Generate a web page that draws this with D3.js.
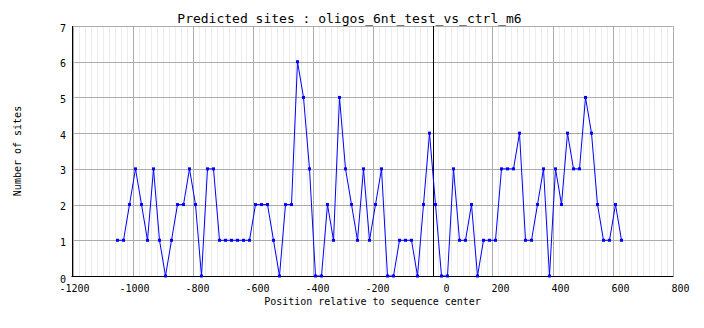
<!DOCTYPE html>
<html><head><meta charset="utf-8">
<script src="https://cdn.jsdelivr.net/npm/d3@7"></script>
<style>
body{margin:0;background:#fff;}
text{font-family:"DejaVu Sans Mono",monospace;fill:#000;}
</style></head>
<body><svg id="c" width="704" height="328"></svg>
<script>
const title = "Predicted sites : oligos_6nt_test_vs_ctrl_m6";
const xLabel = "Position relative to sequence center";
const yLabel = "Number of sites";
const positions = [-1050,-1030,-1010,-990,-970,-950,-930,-910,-890,-870,-850,-830,-810,-790,-770,-750,-730,-710,-690,-670,-650,-630,-610,-590,-570,-550,-530,-510,-490,-470,-450,-430,-410,-390,-370,-350,-330,-310,-290,-270,-250,-230,-210,-190,-170,-150,-130,-110,-90,-70,-50,-30,-10,10,30,50,70,90,110,130,150,170,190,210,230,250,270,290,310,330,350,370,390,410,430,450,470,490,510,530,550,570,590,610,630];
const sites = [1,1,2,3,2,1,3,1,0,1,2,2,3,2,0,3,3,1,1,1,1,1,1,2,2,2,1,0,2,2,6,5,3,0,0,2,1,5,3,2,1,3,1,2,3,0,0,1,1,1,0,2,4,2,0,0,3,1,1,2,0,1,1,1,3,3,3,4,1,1,2,3,0,3,2,4,3,3,5,4,2,1,1,2,1];
const xTicks = [-1200,-1000,-800,-600,-400,-200,0,200,400,600,800];
const yTicks = [0,1,2,3,4,5,6,7];
const xMinor = d3.range(-1200, 801, 20);

const svg = d3.select("#c");
const L = 72.5, R = 672.5, T = 26, B = 276;
const x = d3.scaleLinear().domain([-1200, 800]).range([L, R]);
const y = d3.scaleLinear().domain([0, 7]).range([B, T]);

// minor vertical grid
svg.append("g").selectAll("line").data(xMinor).join("line")
  .attr("x1", d => Math.round(x(d)) + 0.5).attr("x2", d => Math.round(x(d)) + 0.5)
  .attr("y1", T).attr("y2", B)
  .attr("stroke", "#ececec").attr("stroke-width", 1);
// major vertical grid
svg.append("g").selectAll("line").data(xTicks).join("line")
  .attr("x1", d => Math.round(x(d)) + 0.5).attr("x2", d => Math.round(x(d)) + 0.5)
  .attr("y1", T).attr("y2", B)
  .attr("stroke", "#ababab").attr("stroke-width", 1);
// horizontal grid
svg.append("g").selectAll("line").data(yTicks).join("line")
  .attr("x1", L).attr("x2", R)
  .attr("y1", d => Math.round(y(d)) + 0.5).attr("y2", d => Math.round(y(d)) + 0.5)
  .attr("stroke", "#ababab").attr("stroke-width", 1);

// center line at 0
svg.append("line")
  .attr("x1", Math.round(x(0)) + 0.5).attr("x2", Math.round(x(0)) + 0.5)
  .attr("y1", T).attr("y2", B).attr("stroke", "#000").attr("stroke-width", 1);

// axes lines
svg.append("line").attr("x1", Math.round(L)-0.5).attr("x2", Math.round(L)-0.5).attr("y1", T).attr("y2", B+0.5)
  .attr("stroke", "#000").attr("stroke-width", 1);
svg.append("line").attr("x1", L-1).attr("x2", R+1).attr("y1", B+0.5).attr("y2", B+0.5)
  .attr("stroke", "#000").attr("stroke-width", 1);

// tick labels
svg.append("g").selectAll("text").data(xTicks).join("text")
  .attr("x", d => x(d) + 17).attr("y", 292)
  .attr("text-anchor", "end").attr("font-size", 10).text(d => d);
svg.append("g").selectAll("text").data(yTicks).join("text")
  .attr("x", 66).attr("y", d => y(d) + (d === 0 ? 7 : 5.5))
  .attr("text-anchor", "end").attr("font-size", 10).text(d => d);

// line + markers
const line = d3.line().x((d, i) => x(positions[i])).y(d => y(d));
svg.append("path").datum(sites).attr("d", line)
  .attr("fill", "none").attr("stroke", "#0000ff").attr("stroke-width", 1);
svg.append("g").selectAll("rect").data(sites).join("rect")
  .attr("x", (d, i) => x(positions[i]) - 1.5).attr("y", d => y(d) - 1.5)
  .attr("width", 3).attr("height", 3).attr("fill", "#0000ff");

// titles
svg.append("text").attr("x", 349.5).attr("y", 23).attr("text-anchor", "middle")
  .attr("font-size", 13).text(title);
svg.append("text").attr("x", 372.5).attr("y", 305).attr("text-anchor", "middle")
  .attr("font-size", 10).text(xLabel);
svg.append("text").attr("transform", "translate(21,151) rotate(-90)").attr("text-anchor", "middle")
  .attr("font-size", 10).text(yLabel);
</script></body></html>
